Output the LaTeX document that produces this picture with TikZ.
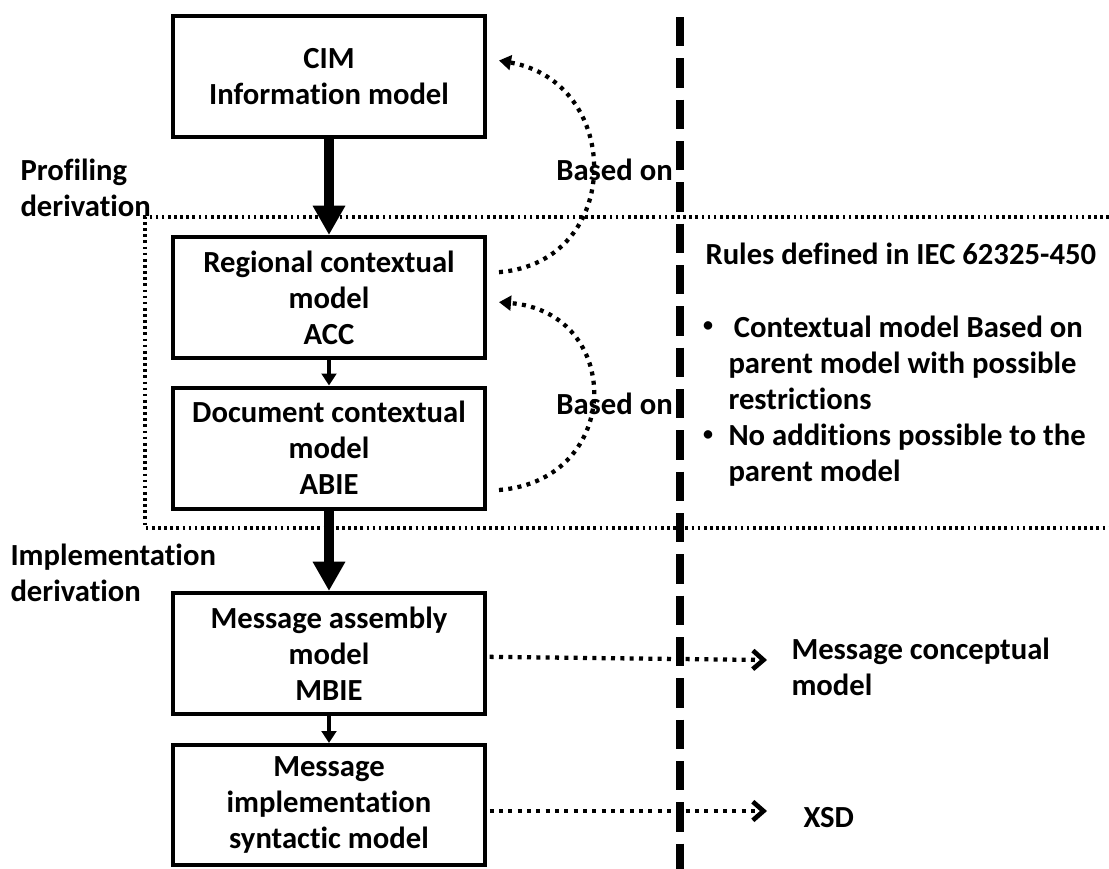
\documentclass[tikz,border=0pt]{standalone}
\usepackage{fontspec}
\setmainfont{Carlito}[Ligatures=NoCommon]
\usetikzlibrary{arrows.meta}
\tikzset{every picture/.style={line width=0.75pt}}
\tikzset{
  txt/.style={font=\fontsize{23}{27}\selectfont\bfseries},
  modelbox/.style={txt, draw, line width=3pt, fill=white, minimum width=234pt, minimum height=90.75pt, align=center, inner sep=0pt},
  bigarrow/.style={line width=7.5pt, -{Triangle[width=23pt,length=22pt]}},
  smallarrow/.style={line width=2.5pt, -{Triangle[width=11pt,length=9pt]}},
  basedon/.style={line width=3.2pt, dash pattern=on 3pt off 4pt, -{Triangle[width=11pt,length=9pt]}},
  outarrow/.style={line width=3.2pt, dash pattern=on 3pt off 4pt, -{Straight Barb[length=8pt,width=14pt,line width=3.5pt]}},
  profilebox/.style={line width=2.4pt, dash pattern=on 2pt off 2.6pt},
  divider/.style={line width=6pt, dash pattern=on 22pt off 9pt}
}

\begin{document}
\begin{tikzpicture}[x=0.75pt,y=0.75pt,yscale=-1,xscale=1]
\useasboundingbox (0,0) rectangle (1109,868);

%Shape: Profiling frame
\draw [profilebox] (1109,217) -- (145,217) -- (145,528) -- (1109,528) ;
%Straight Lines: divider
\draw [divider] (680,17) -- (680,872) ;

%Shape: Rectangle
\node [modelbox] (cim) at (329,76.5) {CIM\\Information model};
%Shape: Rectangle
\node [modelbox] (reg) at (329,297.5) {Regional contextual\\model\\ACC};
%Shape: Rectangle
\node [modelbox] (doc) at (329,448) {Document contextual\\model\\ABIE};
%Shape: Rectangle
\node [modelbox] (asm) at (329,653.5) {Message assembly\\model\\MBIE};
%Shape: Rectangle
\node [modelbox, minimum height=90pt] (syn) at (329,805) {Message\\implementation\\syntactic model};

%Straight Lines
\draw [bigarrow] (cim.south) -- (reg.north) ;
\draw [smallarrow] (reg.south) -- (doc.north) ;
\draw [bigarrow] (doc.south) -- (asm.north) ;
\draw [smallarrow] (asm.south) -- (syn.north) ;

%Curve Lines (shifts are flipped by yscale=-1)
\draw [basedon] ([xshift=9pt,yshift=-19pt]reg.east) .. controls +(125,-10) and +(125,22) .. ([xshift=9pt,yshift=-12pt]cim.east) ;
\draw [basedon] ([xshift=9pt,yshift=31.5pt]doc.east) .. controls +(125,-10) and +(125,10) .. ([xshift=9pt,yshift=3.5pt]reg.east) ;

%Straight Lines
\coordinate (mcend) at (767,660) ;
\coordinate (xsdend) at (767,811) ;
\draw [outarrow] ([xshift=2pt,yshift=2.5pt]asm.east) -- (mcend) ;
\draw [outarrow] ([xshift=2pt,yshift=4.5pt]syn.east) -- (xsdend) ;

% Text Node
\draw (20,187.5) node [txt, anchor=west, align=left, inner sep=0pt] (prof) {Profiling\\derivation};
% Text Node
\draw (10,572.5) node [txt, anchor=west, align=left, inner sep=0pt] (impl) {Implementation\\derivation};
% Text Node
\draw (614.5,170) node [txt] (based1) {Based on};
% Text Node
\draw (614.5,404) node [txt] (based2) {Based on};
% Text Node
\draw (705,254) node [txt, anchor=west, inner sep=0pt] (rules) {Rules defined in IEC 62325-450};
% Text Node
\draw (708,327) node [font=\fontsize{15}{15}\selectfont\bfseries, inner sep=0pt] (bul1) {\textbullet};
% Text Node
\draw (708,436) node [font=\fontsize{15}{15}\selectfont\bfseries, inner sep=0pt] (bul2) {\textbullet};
% Text Node
\draw (728,401) node [txt, anchor=west, align=left, inner sep=0pt] (ruletxt) {\hspace*{4pt}Contextual model Based on\\parent model with possible\\restrictions\\No additions possible to the\\parent model};
% Text Node
\draw (791,667) node [txt, anchor=west, align=left, inner sep=0pt] (mcm) {Message conceptual\\model};
% Text Node
\draw (803,818) node [txt, anchor=west, inner sep=0pt] (xsd) {XSD};

\end{tikzpicture}
\end{document}
